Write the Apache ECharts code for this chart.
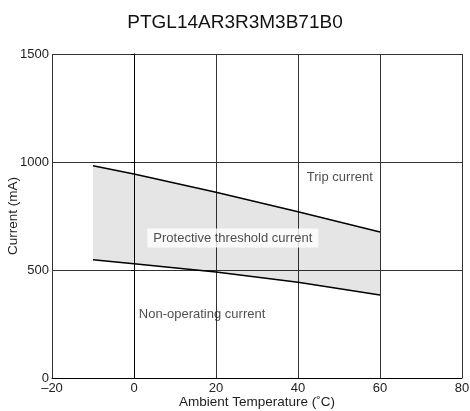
<!DOCTYPE html>
<html><head><meta charset="utf-8">
<script src="https://cdn.jsdelivr.net/npm/echarts@6/dist/echarts.min.js"></script>
<style>html,body{margin:0;padding:0;background:#fff}#c{width:470px;height:411px}</style>
</head><body><div id="c"></div>
<script>
const temps = [-10, 0, 20, 40, 60];
const tripCurrent = [983, 944, 860, 770, 676];
const nonOperating = [548, 529, 491, 443, 384];
const xTicks = [-20, 0, 20, 40, 60, 80];
const yTicks = [0, 500, 1000, 1500];
const labels = [
  {text: 'Trip current', x: 50.2, y: 930, bg: false},
  {text: 'Protective threshold current', x: 24.1, y: 648, bg: true},
  {text: 'Non-operating current', x: 16.6, y: 296, bg: false}
];

const font = 'Liberation Sans, Arial, sans-serif';
const chart = echarts.init(document.getElementById('c'));
const pair = (arr) => temps.map((t, i) => [t, arr[i]]);

chart.setOption({
  animation: false,
  title: {text: 'PTGL14AR3R3M3B71B0', left: 'center', top: 8,
    textStyle: {fontFamily: font, fontSize: 19, fontWeight: 'normal', color: '#111'}},
  grid: {left: 52, right: 8, top: 54, bottom: 33, containLabel: false, outerBoundsMode: 'none'},
  xAxis: {type: 'value', min: xTicks[0], max: xTicks[xTicks.length-1], interval: 20,
    name: 'Ambient Temperature (˚C)', nameLocation: 'middle', nameGap: 17, nameMoveOverlap: false,
    nameTextStyle: {fontFamily: font, fontSize: 13.5, color: '#222'},
    axisLine: {lineStyle: {color: '#000', width: 1}},
    axisTick: {show: false},
    axisLabel: {fontFamily: font, fontSize: 13, color: '#222', margin: 4, formatter: v => String(v).replace('-', '–')},
    splitLine: {show: true, lineStyle: {color: '#333', width: 1}}},
  yAxis: {type: 'value', min: yTicks[0], max: yTicks[yTicks.length-1], interval: 500,
    name: 'Current (mA)', nameLocation: 'middle', nameGap: 32, nameMoveOverlap: false,
    nameTextStyle: {fontFamily: font, fontSize: 13.5, color: '#222'},
    axisLine: {show: true, lineStyle: {color: '#000', width: 1}},
    axisTick: {show: true, length: 3, lineStyle: {color: '#000'}},
    axisLabel: {fontFamily: font, fontSize: 13, color: '#222', margin: 3, formatter: v => String(v)},
    splitLine: {show: true, lineStyle: {color: '#333', width: 1}}},
  series: [
    {type: 'custom', silent: true, data: [0],
      renderItem: (params, api) => {
        const pts = temps.map((t, i) => api.coord([t, tripCurrent[i]]))
          .concat(temps.slice().reverse().map((t, j) => api.coord([t, nonOperating[temps.length - 1 - j]])));
        return {type: 'polygon', shape: {points: pts}, style: {fill: 'rgba(0,0,0,0.1)'}};
      }},
    {type: 'line', data: pair(tripCurrent), symbol: 'none', lineStyle: {color: '#000', width: 1.5}},
    {type: 'line', data: pair(nonOperating), symbol: 'none', lineStyle: {color: '#000', width: 1.5}},
    {type: 'scatter', symbolSize: 0, z: 5,
      data: labels.map(l => ({value: [l.x, l.y], label: {
        show: true, position: 'inside', formatter: l.text,
        fontFamily: font, fontSize: 13, color: '#222',
        backgroundColor: l.bg ? '#fff' : 'transparent', padding: l.bg ? [3, 6] : 0}}))}
  ]
});
</script></body></html>
